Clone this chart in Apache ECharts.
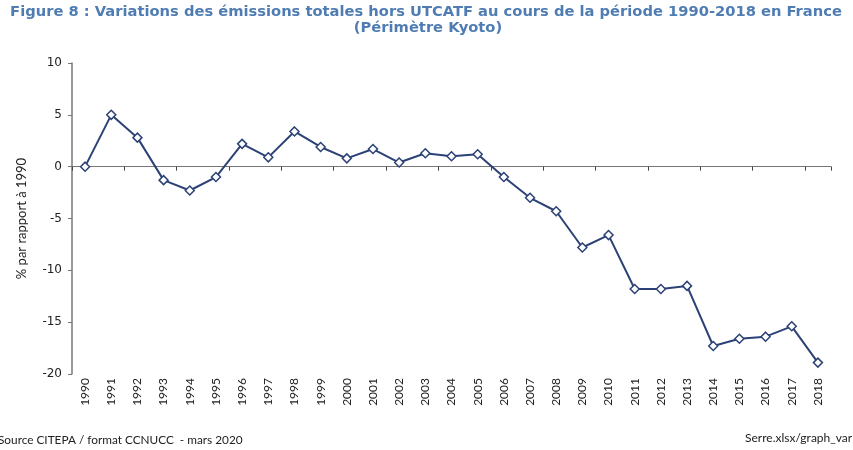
<!DOCTYPE html>
<html>
<head>
	<meta charset="utf-8">
	<title>Variations des émissions totales hors UTCATF</title>
	<script src="https://cdn.jsdelivr.net/npm/echarts@6/dist/echarts.min.js"></script>
	<style type="text/css">
		html, body{ margin: 0; padding: 0; background: #fff; }
		#chart{ width: 853px; height: 450px; }
	</style>
</head>
<body>
	<div id="chart"></div>
	<script>
		// données
		var years = ['1990', '1991', '1992', '1993', '1994', '1995', '1996', '1997', '1998', '1999',
			'2000', '2001', '2002', '2003', '2004', '2005', '2006', '2007', '2008', '2009',
			'2010', '2011', '2012', '2013', '2014', '2015', '2016', '2017', '2018'];
		var variations = [0, 5.0, 2.8, -1.3, -2.3, -1.0, 2.2, 0.9, 3.4, 1.9,
			0.8, 1.7, 0.4, 1.3, 1.0, 1.2, -1.0, -3.0, -4.3, -7.8,
			-6.6, -11.8, -11.8, -11.5, -17.3, -16.6, -16.4, -15.4, -18.9];
		var yTicks = [-20, -15, -10, -5, 0, 5, 10];

		var blue = '#2c4276';
		var titleColor = '#4f7db3';
		var narrow = 'Lato, "Liberation Sans", sans-serif';

		var chart = echarts.init(document.getElementById('chart'));

		var option = {
			animation: false,
			grid: {
				left: 72,
				right: 22,
				top: 63,
				bottom: 76
			},
			xAxis: [{
				// libellés en bas
				type: 'category',
				data: years,
				position: 'bottom',
				axisLine: { show: false, onZero: false },
				axisTick: { show: false },
				axisLabel: {
					rotate: 90,
					interval: 0,
					margin: 4,
					fontFamily: narrow,
					fontSize: 12,
					color: '#222'
				}
			}, {
				// ligne du zéro
				type: 'category',
				data: years,
				position: 'bottom',
				axisLine: { show: true, onZero: true, lineStyle: { color: '#777', width: 1 } },
				axisTick: { show: true, inside: false, length: 4, lineStyle: { color: '#444' } },
				axisLabel: { show: false }
			}],
			yAxis: {
				type: 'value',
				min: yTicks[0],
				max: yTicks[yTicks.length - 1],
				interval: 5,
				name: '% par rapport à 1990',
				nameLocation: 'middle',
				nameGap: 44,
				nameTextStyle: {
					fontFamily: narrow,
					fontSize: 13,
					color: '#222'
				},
				axisLine: { show: true, lineStyle: { color: '#777', width: 1.5 } },
				axisTick: { show: true, length: 4, lineStyle: { color: '#777' } },
				splitLine: { show: false },
				axisLabel: {
					margin: 10,
					fontFamily: 'DejaVu Sans',
					fontSize: 12,
					color: '#222'
				}
			},
			graphic: [{
				type: 'text',
				x: 426,
				y: 5,
				style: {
					text: 'Figure 8 : Variations des émissions totales hors UTCATF au cours de la période 1990-2018 en France',
					font: 'bold 14.7px "DejaVu Sans"',
					fill: titleColor,
					align: 'center'
				}
			}, {
				type: 'text',
				x: 428,
				y: 21,
				style: {
					text: '(Périmètre Kyoto)',
					font: 'bold 14.7px "DejaVu Sans"',
					fill: titleColor,
					align: 'center'
				}
			}, {
				type: 'text',
				x: -2,
				y: 434,
				style: {
					text: 'Source CITEPA / format CCNUCC  - mars 2020',
					font: '11.8px ' + narrow,
					fill: '#222'
				}
			}, {
				type: 'text',
				x: 745,
				y: 432,
				style: {
					text: 'Serre.xlsx/graph_var',
					font: '12px ' + narrow,
					fill: '#222',
					letterSpacing: 0.6
				}
			}],
			series: [{
				type: 'line',
				xAxisIndex: 0,
				data: variations,
				symbol: 'diamond',
				symbolSize: 9,
				lineStyle: { color: blue, width: 2 },
				itemStyle: { color: '#fff', borderColor: blue, borderWidth: 1.5 }
			}]
		};

		chart.setOption(option);
	</script>
</body>
</html>
